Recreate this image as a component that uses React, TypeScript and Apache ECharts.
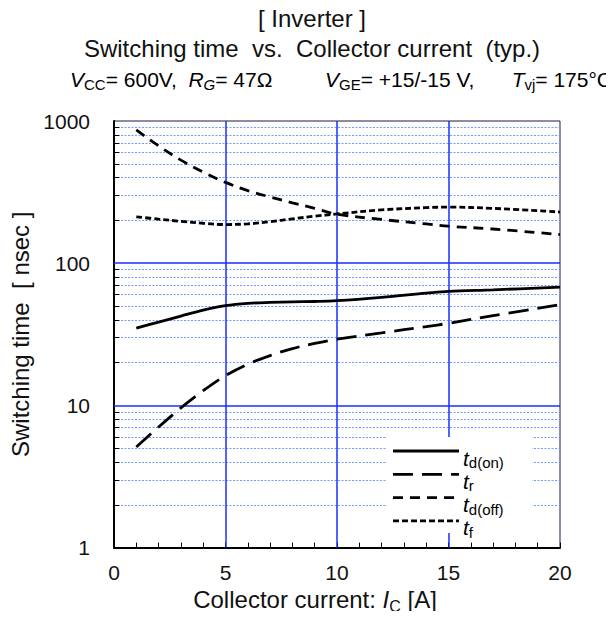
import React, { useEffect, useRef } from "react";
import * as echarts from "echarts";

// Collector current [A]
const currents = [1, 2, 3, 4, 5, 6, 7, 8, 9, 10, 12, 14, 15, 17, 20];
// Switching times [nsec]
const tdOn = [35, 38.5, 42.5, 46.8, 50.3, 52.2, 53, 53.5, 53.8, 54.5, 57.5, 61.5, 63.4, 65, 67.8];
const tr = [5.1, 7.05, 9.6, 12.7, 16.2, 19.5, 22.4, 25.1, 27.3, 29.2, 32.4, 35.8, 37.8, 42.8, 51];
const tdOff = [865, 668, 531, 437, 370, 324, 292, 266, 243, 221, 203, 189, 182, 174, 159];
const tf = [212, 204, 197, 191, 187, 189, 196, 205, 214, 222, 237, 246, 248, 243, 229];

const xTicks = [0, 5, 10, 15, 20];
const xMajorGrid = [5, 10, 15];
const yDecades = [1, 10, 100, 1000];
const yMinor = [2, 3, 4, 5, 6, 7, 8, 9, 20, 30, 40, 50, 60, 70, 80, 90, 200, 300, 400, 500, 600, 700, 800, 900];

const FONT = "'Liberation Sans', Arial, sans-serif";
const TICK_FS = 21;
const NAME_FS = 24;
const COND_FS = 21;

const pair = (ys: number[]) => currents.map((x, i) => [x, ys[i]]);

const richFor = (fs: number, sub: number) => ({
  n: { fontFamily: FONT, fontSize: fs, color: "#111", lineHeight: fs + 5 },
  i: { fontFamily: FONT, fontSize: fs, color: "#111", fontStyle: "italic", lineHeight: fs + 5 },
  s: { fontFamily: FONT, fontSize: sub, color: "#111", verticalAlign: "bottom" },
  si: { fontFamily: FONT, fontSize: sub, color: "#111", fontStyle: "italic", verticalAlign: "bottom" },
});

const plainMarkLine = (lineStyle: any, data: any[]) => ({
  silent: true,
  symbol: "none",
  label: { show: false },
  emphasis: { disabled: true },
  lineStyle,
  data,
});

export default function App() {
  const ref = useRef<HTMLDivElement>(null);

  useEffect(() => {
    if (!ref.current) return;
    const chart = echarts.init(ref.current, null, { renderer: "svg" });

    const curve = (name: string, ys: number[], dash: number[] | "solid") => ({
      name,
      type: "line",
      data: pair(ys),
      smooth: 0.35,
      showSymbol: false,
      symbol: "none",
      silent: true,
      lineStyle: { color: "#000", width: 2.8, type: dash },
      z: 5,
    });

    const legendItems = [
      { sub: "d(on)", dash: "solid" as const },
      { sub: "r", dash: [20, 9] },
      { sub: "d(off)", dash: [10, 7] },
      { sub: "f", dash: [6, 3] },
    ];
    const legendTop = 451;
    const legendStep = 23.3;

    const legendGraphics: any[] = [
      {
        type: "rect",
        shape: { x: 386, y: 437, width: 146, height: 96 },
        style: { fill: "#fff" },
        z: 100,
      },
    ];
    legendItems.forEach((it, k) => {
      const y = legendTop + k * legendStep;
      legendGraphics.push({
        type: "line",
        shape: { x1: 393, y1: y, x2: 459, y2: y },
        style: { stroke: "#000", lineWidth: 2.8, lineDash: it.dash === "solid" ? null : it.dash },
        z: 101,
      });
      legendGraphics.push({
        type: "text",
        x: 463,
        y: y + 7,
        style: {
          text: `{t|t}{s|${it.sub}}`,
          verticalAlign: "middle",
          rich: {
            t: { fontFamily: FONT, fontSize: 21, fontStyle: "italic", color: "#111", lineHeight: 24 },
            s: { fontFamily: FONT, fontSize: 15, color: "#111", verticalAlign: "bottom" },
          },
        },
        z: 101,
      });
    });

    const condRich = richFor(COND_FS, 15);

    const option: any = {
      animation: false,
      backgroundColor: "#fff",
      grid: {
        left: 114,
        right: 54,
        top: 121,
        bottom: 69,
        show: true,
        borderColor: "#1a1a4a",
        borderWidth: 1,
        containLabel: false,
      },
      xAxis: {
        type: "value",
        min: xTicks[0],
        max: xTicks[xTicks.length - 1],
        interval: 5,
        name: "{n|Collector current: }{i|I}{s|C}{n| [A]}",
        nameLocation: "middle",
        nameGap: 36,
        nameTextStyle: { rich: richFor(NAME_FS, 16), padding: [0, 44, 0, 0] },
        axisLine: { show: true, onZero: false, lineStyle: { color: "#000", width: 2 } },
        axisTick: { show: true, inside: true, length: 5, lineStyle: { color: "#000", width: 1 } },
        minorTick: { show: true, splitNumber: 5, length: 5, lineStyle: { color: "#000", width: 1 } },
        axisLabel: { margin: 14, fontFamily: FONT, fontSize: TICK_FS, color: "#111" },
        splitLine: { show: false },
      },
      yAxis: {
        type: "log",
        logBase: 10,
        min: yDecades[0],
        max: yDecades[yDecades.length - 1],
        name: "Switching time  [ nsec ]",
        nameLocation: "middle",
        nameGap: 77,
        nameRotate: 90,
        nameTextStyle: { fontFamily: FONT, fontSize: NAME_FS, color: "#111" },
        axisLine: { show: true, onZero: false, lineStyle: { color: "#000", width: 2 } },
        axisTick: { show: false },
        axisLabel: {
          margin: 24,
          fontFamily: FONT,
          fontSize: TICK_FS,
          color: "#111",
          formatter: (v: number) => String(Math.round(v)),
        },
        splitLine: { show: false },
      },
      series: [
        {
          name: "grid-minor",
          type: "line",
          data: [],
          silent: true,
          z: 1,
          markLine: plainMarkLine(
            { color: "#6f9bff", width: 1, type: [2, 1.5] },
            yMinor.map((v) => ({ yAxis: v }))
          ),
        },
        {
          name: "grid-major",
          type: "line",
          data: [],
          silent: true,
          z: 2,
          markLine: plainMarkLine({ color: "#1a2eff", width: 1.5, type: "solid" }, [
            ...yDecades.slice(1, -1).map((v) => ({ yAxis: v })),
            ...xMajorGrid.map((v) => ({ xAxis: v })),
          ]),
        },
        {
          name: "y-minor-ticks",
          type: "line",
          data: [],
          silent: true,
          z: 3,
          markLine: plainMarkLine(
            { color: "#000", width: 1, type: "solid" },
            yMinor.map((v) => [{ coord: [0, v] }, { coord: [0.24, v] }])
          ),
        },
        curve("td(on)", tdOn, "solid"),
        curve("tr", tr, [20, 9]),
        curve("td(off)", tdOff, [10, 7]),
        curve("tf", tf, [6, 3]),
      ],
      graphic: [
        {
          type: "text",
          x: 312,
          y: 18,
          style: { text: "[ Inverter ]", font: `${NAME_FS}px ${FONT}`, fill: "#111", align: "center", verticalAlign: "middle" },
        },
        {
          type: "text",
          x: 312,
          y: 48,
          style: {
            text: "Switching time  vs.  Collector current  (typ.)",
            font: `${NAME_FS}px ${FONT}`,
            fill: "#111",
            align: "center",
            verticalAlign: "middle",
          },
        },
        {
          type: "text",
          x: 70,
          y: 79,
          style: {
            text: "{i|V}{s|CC}{n|= 600V,  }{i|R}{si|G}{n|= 47Ω}",
            verticalAlign: "middle",
            rich: condRich,
          },
        },
        {
          type: "text",
          x: 325,
          y: 79,
          style: {
            text: "{i|V}{s|GE}{n|= +15/-15 V,}",
            verticalAlign: "middle",
            rich: condRich,
          },
        },
        {
          type: "text",
          x: 612,
          y: 79,
          style: {
            text: "{i|T}{s|vj}{n|= 175°C}",
            align: "right",
            verticalAlign: "middle",
            rich: condRich,
          },
        },
        ...legendGraphics,
      ],
    };

    chart.setOption(option);
    return () => chart.dispose();
  }, []);

  return <div ref={ref} style={{ width: 614, height: 619, margin: -8 }} />;
}
